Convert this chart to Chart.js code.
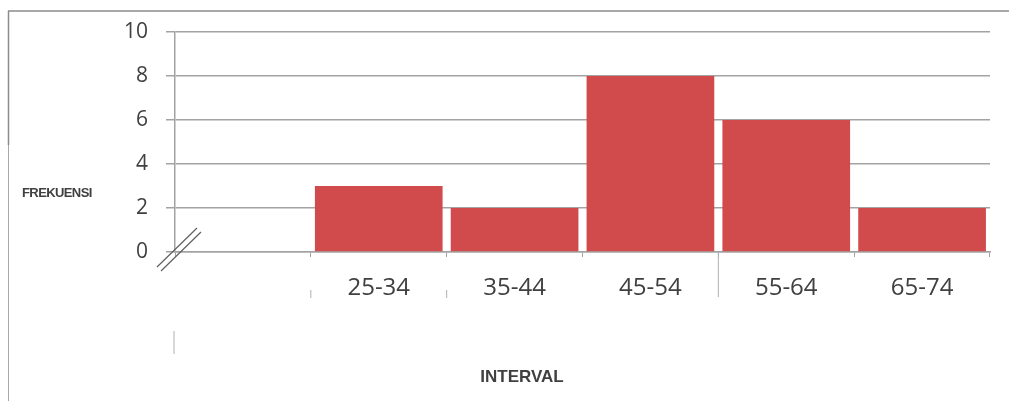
<!DOCTYPE html>
<html>
<head>
<meta charset="utf-8">
<script src="https://cdn.jsdelivr.net/npm/chart.js@4/dist/chart.umd.min.js"></script>
<style>
  html, body { margin: 0; padding: 0; background: #fff; }
  #wrap { width: 1009px; height: 401px; position: relative; }
</style>
</head>
<body>
<div id="wrap"><canvas id="histChart"></canvas></div>
<script>
// interval classes (first slot is left empty, as in the original sheet)
const intervals = ['', '25-34', '35-44', '45-54', '55-64', '65-74'];
const frekuensi = [null, 3, 2, 8, 6, 2];
const yTicks = [0, 2, 4, 6, 8, 10];

const gridGray = '#a3a3a3';
const textGray = '#404040';

// frame lines, axis break mark and the two axis titles
const decor = {
    id: 'decor',
    afterDraw(chart) {
        const ctx = chart.ctx;
        const area = chart.chartArea;
        const x = chart.scales.x;
        ctx.save();
        ctx.strokeStyle = '#8c8c8c';
        ctx.lineWidth = 1.5;
        ctx.beginPath();
        ctx.moveTo(8, 11); ctx.lineTo(chart.width, 11);
        ctx.moveTo(8.5, 11); ctx.lineTo(8.5, 145);
        ctx.stroke();
        ctx.strokeStyle = '#a8a8a8';
        ctx.lineWidth = 1;
        ctx.beginPath();
        ctx.moveTo(8.5, 145); ctx.lineTo(8.5, chart.height);
        ctx.stroke();

        // "//" break on the origin
        ctx.strokeStyle = '#606060';
        ctx.lineWidth = 1.2;
        ctx.beginPath();
        ctx.moveTo(area.left - 18, area.bottom + 15); ctx.lineTo(area.left + 22, area.bottom - 24);
        ctx.moveTo(area.left - 14, area.bottom + 19); ctx.lineTo(area.left + 26, area.bottom - 20);
        ctx.stroke();

        // stray marks left over below the axis
        ctx.strokeStyle = '#b0b0b0';
        ctx.lineWidth = 1;
        const w = x.getPixelForValue(1) - x.getPixelForValue(0);
        const b1 = x.getPixelForValue(1) - w / 2;
        const b2 = x.getPixelForValue(2) - w / 2;
        const b4 = x.getPixelForValue(4) - w / 2;
        ctx.beginPath();
        ctx.moveTo(b1, area.bottom + 38); ctx.lineTo(b1, area.bottom + 46);
        ctx.moveTo(b2, area.bottom + 38); ctx.lineTo(b2, area.bottom + 46);
        ctx.moveTo(b4, area.bottom); ctx.lineTo(b4, area.bottom + 45);
        ctx.moveTo(area.left - 1, area.bottom + 79); ctx.lineTo(area.left - 1, area.bottom + 102);
        ctx.stroke();

        ctx.fillStyle = textGray;
        ctx.font = 'bold 13px "Liberation Sans", Arial, sans-serif';
        ctx.letterSpacing = '-0.6px';
        ctx.textBaseline = 'middle';
        ctx.textAlign = 'left';
        ctx.fillText('FREKUENSI', 22, 193);
        ctx.letterSpacing = '0px';
        ctx.font = 'bold 17px "Liberation Sans", Arial, sans-serif';
        ctx.textAlign = 'center';
        ctx.fillText('INTERVAL', 522, 377);
        ctx.restore();
    }
};

new Chart(document.getElementById('histChart'), {
    type: 'bar',
    data: {
        labels: intervals,
        datasets: [{
            label: 'Frekuensi',
            data: frekuensi,
            backgroundColor: '#d14b4c',
            borderWidth: 0,
            categoryPercentage: 1.0,
            barPercentage: 0.94
        }]
    },
    options: {
        responsive: true,
        maintainAspectRatio: false,
        animation: false,
        layout: { padding: { top: 32, right: 19, left: 0, bottom: 0 } },
        plugins: { legend: { display: false }, tooltip: { enabled: false } },
        scales: {
            x: {
                afterFit: s => { s.height = 149; },
                grid: { display: true, offset: true, drawOnChartArea: false, tickLength: 5, color: gridGray },
                border: { display: true, color: gridGray, width: 1.5 },
                ticks: { color: textGray, font: { family: '"Open Sans", sans-serif', size: 24 }, padding: 17, maxRotation: 0 }
            },
            y: {
                min: 0,
                max: 10,
                afterFit: s => { s.width = 175; },
                afterBuildTicks: s => { s.ticks = yTicks.map(v => ({ value: v })); },
                grid: { color: gridGray, lineWidth: 1.5, tickLength: 9 },
                border: { display: true, color: gridGray, width: 1.5 },
                ticks: { color: textGray, font: { family: '"Open Sans", sans-serif', size: 21 }, padding: 18 }
            }
        }
    },
    plugins: [decor]
});
</script>
</body>
</html>
